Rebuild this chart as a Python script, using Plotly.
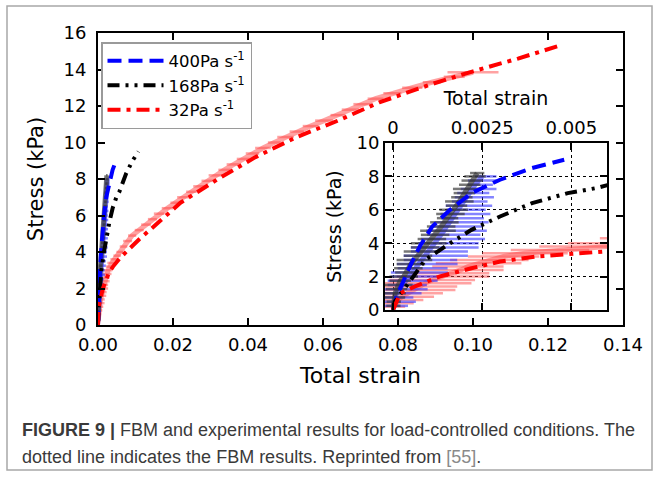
import plotly.graph_objects as go

# ---------------- data ----------------
SERIES_NAMES = ["400Pa s<sup>-1</sup>", "168Pa s<sup>-1</sup>", "32Pa s<sup>-1</sup>"]

# FBM model curves (strain, stress kPa)
BLUE_FBM_STRAIN = [0, 0.0001, 0.00047, 0.00075, 0.0011, 0.0016, 0.0022, 0.003, 0.0039, 0.0048]
BLUE_FBM_STRESS = [0, 0.8, 2.6, 3.8, 5.0, 6.0, 7.0, 7.8, 8.5, 9.0]

BLACK_FBM_STRAIN = [0, 0.00005, 0.0005, 0.0009, 0.0016, 0.0022, 0.003, 0.0039, 0.0049, 0.0057,
                    0.0075, 0.0092, 0.0108]
BLACK_FBM_STRESS = [0, 0.5, 1.8, 3.0, 4.0, 4.8, 5.6, 6.4, 7.0, 7.3, 8.3, 9.0, 9.5]

RED_FBM_STRAIN = [0, 0.0002, 0.0006, 0.0013, 0.0022, 0.003, 0.004, 0.005, 0.006, 0.008, 0.011,
                  0.016, 0.022, 0.032, 0.042, 0.053, 0.064, 0.075, 0.089, 0.100, 0.112, 0.123]
RED_FBM_STRESS = [0, 1.0, 1.4, 2.0, 2.5, 2.9, 3.2, 3.45, 3.7, 4.1, 4.7,
                  5.6, 6.7, 8.0, 9.2, 10.3, 11.2, 12.2, 13.2, 13.9, 14.6, 15.3]

# Experimental data (strain, stress, horizontal error minus / plus)
RED_EXP_STRESS = [0.2, 0.4, 0.6, 0.8, 1.0, 1.2, 1.4, 1.6, 1.8, 2.0, 2.2, 2.4, 2.6, 2.8, 3.0, 3.2,
                  3.4, 3.6, 3.8, 4.0, 4.3, 4.6, 4.9, 5.2, 5.5, 5.8, 6.1, 6.4, 6.7, 7.0, 7.3, 7.6,
                  7.9, 8.2, 8.5, 8.8, 9.1, 9.4, 9.7, 10.0, 10.3, 10.6, 10.9, 11.2, 11.5, 11.8,
                  12.1, 12.4, 12.7, 13.0, 13.3, 13.6, 13.85]
RED_EXP_STRAIN = [0.00004, 0.00008, 0.00015, 0.00025, 0.0004, 0.00055, 0.0007, 0.0009, 0.0011,
                  0.0014, 0.0016, 0.0019, 0.0021, 0.0024, 0.0027, 0.0031, 0.0037, 0.0044, 0.0051,
                  0.0058, 0.0068, 0.0079, 0.0091, 0.0110, 0.0128, 0.0145, 0.0163, 0.0185, 0.0206,
                  0.0227, 0.0249, 0.0271, 0.0291, 0.0313, 0.0337, 0.0362, 0.0387, 0.0412, 0.0440,
                  0.0470, 0.0500, 0.0530, 0.0567, 0.0603, 0.0640, 0.0673, 0.0706, 0.0740, 0.0785,
                  0.0838, 0.0890, 0.0950, 0.1000]
RED_EXP_ERR = [0.0003, 0.0005, 0.0007, 0.0009, 0.0010, 0.0012, 0.0011, 0.0013, 0.0012, 0.0013,
               0.0011, 0.0012, 0.0010, 0.0012, 0.0011, 0.0010, 0.0012, 0.0011, 0.0010, 0.0009,
               0.0010, 0.0012, 0.0011, 0.0012, 0.0013, 0.0012, 0.0014, 0.0015, 0.0013, 0.0016,
               0.0014, 0.0017, 0.0015, 0.0018, 0.0016, 0.0019, 0.0017, 0.0018, 0.0021, 0.0017,
               0.0022, 0.0019, 0.0021, 0.0024, 0.0020, 0.0023, 0.0025, 0.0021, 0.0024, 0.0027,
               0.0024, 0.0028, 0.0068]

BLUE_EXP_STRESS = [0.25, 0.5, 0.75, 1.0, 1.25, 1.5, 1.75, 2.0, 2.25, 2.5, 2.75, 3.0, 3.25, 3.5,
                   3.75, 4.0, 4.25, 4.5, 4.75, 5.0, 5.25, 5.5, 5.75, 6.0, 6.25, 6.5, 6.75, 7.0,
                   7.25, 7.5, 7.75, 8.0]
BLUE_EXP_STRAIN = [0.00002, 0.00004, 0.00007, 0.0001, 0.00017, 0.00025, 0.00035, 0.00045, 0.00054,
                   0.00063, 0.00071, 0.0008, 0.0009, 0.001, 0.0011, 0.0012, 0.00128, 0.00135,
                   0.00143, 0.0015, 0.00158, 0.00165, 0.00173, 0.0018, 0.00188, 0.00195, 0.00203,
                   0.0021, 0.0022, 0.0023, 0.0024, 0.0025]
BLUE_EXP_ERR_MINUS = [0.0003, 0.0003, 0.0004, 0.0004, 0.0005, 0.0004, 0.0005, 0.0005, 0.0006,
                      0.0005, 0.0006, 0.0005, 0.0006, 0.0005, 0.0006, 0.0005, 0.0005, 0.0004,
                      0.0005, 0.0004, 0.0004, 0.0003, 0.0004, 0.0003, 0.0004, 0.0003, 0.0003,
                      0.0003, 0.0003, 0.0002, 0.0003, 0.0002]
BLUE_EXP_ERR_PLUS = [0.0004, 0.0006, 0.0005, 0.0007, 0.0008, 0.0007, 0.0009, 0.0008, 0.0010,
                     0.0009, 0.0011, 0.0010, 0.0012, 0.0011, 0.0013, 0.0012, 0.0013, 0.0011,
                     0.0012, 0.0010, 0.0011, 0.0009, 0.0010, 0.0008, 0.0009, 0.0007, 0.0008,
                     0.0006, 0.0007, 0.0005, 0.0006, 0.0004]

GRAY_EXP_STRESS = [0.25, 0.5, 0.75, 1.0, 1.25, 1.5, 1.75, 2.0, 2.25, 2.5, 2.75, 3.0, 3.25, 3.5,
                   3.75, 4.0, 4.25, 4.5, 4.75, 5.0, 5.25, 5.5, 5.75, 6.0, 6.25, 6.5, 6.75, 7.0,
                   7.25, 7.5, 7.75, 8.0, 8.2]
GRAY_EXP_STRAIN = [0.00001, 0.00002, 0.00004, 0.00006, 0.0001, 0.00015, 0.0002, 0.0003, 0.00036,
                   0.00043, 0.0005, 0.0006, 0.0007, 0.0008, 0.0009, 0.001, 0.00109, 0.00118,
                   0.00126, 0.00135, 0.00144, 0.00153, 0.00161, 0.0017, 0.00178, 0.00186, 0.00193,
                   0.002, 0.00208, 0.00215, 0.00222, 0.0023, 0.00236]
GRAY_EXP_ERR = [0.0002, 0.0002, 0.0003, 0.0003, 0.0003, 0.0004, 0.0003, 0.0004, 0.0003, 0.0004,
                0.0004, 0.0005, 0.0004, 0.0005, 0.0004, 0.0005, 0.0004, 0.0004, 0.0005, 0.0004,
                0.0004, 0.0003, 0.0004, 0.0004, 0.0003, 0.0004, 0.0003, 0.0003, 0.0004, 0.0003,
                0.0003, 0.0003, 0.0002]

MAIN_X_TICKS = [0, 0.02, 0.04, 0.06, 0.08, 0.10, 0.12, 0.14]
MAIN_Y_TICKS = [0, 2, 4, 6, 8, 10, 12, 14, 16]
INSET_X_TICKS = [0, 0.0025, 0.005]
INSET_X_TICKTEXT = ["0", "0.0025", "0.005"]
INSET_Y_TICKS = [0, 2, 4, 6, 8, 10]

CAPTION_LINES = [
    "<b>FIGURE 9 |</b> FBM and experimental results for load-controlled conditions. The",
    "dotted line indicates the FBM results. Reprinted from "
    "<span style='color:#8a8a8a'>[55]</span>.",
]

# ---------------- figure ----------------
W, H = 655, 478
FONT = "DejaVu Sans"

fig = go.Figure()

exp_specs = [
    (RED_EXP_STRAIN, RED_EXP_STRESS, RED_EXP_ERR, RED_EXP_ERR, "rgba(255,70,70,0.5)"),
    (BLUE_EXP_STRAIN, BLUE_EXP_STRESS, BLUE_EXP_ERR_PLUS, BLUE_EXP_ERR_MINUS,
     "rgba(50,50,255,0.6)"),
    (GRAY_EXP_STRAIN, GRAY_EXP_STRESS, GRAY_EXP_ERR, GRAY_EXP_ERR, "rgba(55,55,55,0.68)"),
]
fbm_specs = [
    (BLUE_FBM_STRAIN, BLUE_FBM_STRESS, "#0000ff", "14px,7px", SERIES_NAMES[0]),
    (BLACK_FBM_STRAIN, BLACK_FBM_STRESS, "#000000", "12px,6px,3px,6px,3px,6px", SERIES_NAMES[1]),
    (RED_FBM_STRAIN, RED_FBM_STRESS, "#ff0000", "13px,6px,4px,6px", SERIES_NAMES[2]),
]

for xa, ya in [("x", "y"), ("x2", "y2")]:
    for sx, sy, ep, em, col in exp_specs:
        fig.add_trace(go.Scatter(
            x=sx, y=sy, mode="lines", xaxis=xa, yaxis=ya, showlegend=False,
            line=dict(color=col, width=5),
            error_x=dict(type="data", symmetric=False, array=ep, arrayminus=em,
                         color=col, thickness=2.5, width=0),
            hoverinfo="skip"))
    for sx, sy, col, dash, name in fbm_specs:
        fig.add_trace(go.Scatter(
            x=sx, y=sy, mode="lines", xaxis=xa, yaxis=ya, name=name,
            showlegend=(xa == "x"), line=dict(color=col, width=4, dash=dash)))

ax_common = dict(showline=True, linecolor="black", linewidth=2, mirror="ticks",
                 ticks="inside", tickcolor="black", tickwidth=1.5, ticklen=7,
                 zeroline=False, automargin=False,
                 tickfont=dict(family=FONT, size=18, color="black"))

fig.update_layout(
    width=W, height=H, margin=dict(l=0, r=0, t=0, b=0, autoexpand=False),
    paper_bgcolor="white", plot_bgcolor="white",
    font=dict(family=FONT, color="black"),
    xaxis=dict(domain=[98 / W, 623 / W], range=[0, 0.14], tickvals=MAIN_X_TICKS,
               tickformat=".2f", showgrid=False, anchor="y", ticklabelstandoff=2,
               title=dict(text="Total strain", font=dict(size=22), standoff=14),
               **ax_common),
    yaxis=dict(domain=[1 - 325 / H, 1 - 33 / H], range=[0, 16], tickvals=MAIN_Y_TICKS,
               showgrid=False, anchor="x", ticklabelstandoff=6,
               title=dict(text="Stress (kPa)", font=dict(size=21), standoff=14),
               **ax_common),
    xaxis2=dict(domain=[385 / W, 607 / W], range=[-0.000225, 0.006], tickvals=INSET_X_TICKS,
                ticktext=INSET_X_TICKTEXT, side="top", anchor="y2",
                showgrid=True, gridcolor="black", gridwidth=1, griddash="dot",
                title=dict(text="Total strain", font=dict(size=19), standoff=6),
                **ax_common),
    yaxis2=dict(domain=[1 - 310 / H, 1 - 143 / H], range=[0, 10], tickvals=INSET_Y_TICKS,
                anchor="x2", showgrid=True, gridcolor="black", gridwidth=1, griddash="dot",
                title=dict(text="Stress (kPa)", font=dict(size=19), standoff=10),
                **ax_common),
    legend=dict(x=101 / W, y=1 - 42 / H, xanchor="left", yanchor="top",
                bgcolor="white", bordercolor="#9a9a9a", borderwidth=1.5, itemwidth=56,
                font=dict(family=FONT, size=16.5, color="black"), tracegroupgap=0),
    showlegend=True,
)

# outer frame
fig.add_shape(type="rect", xref="paper", yref="paper",
              x0=7 / W, x1=652 / W, y0=1 - 470 / H, y1=1 - 6 / H,
              line=dict(color="#a8a8a8", width=1.5), fillcolor="rgba(0,0,0,0)", layer="below")

for i, line in enumerate(CAPTION_LINES):
    fig.add_annotation(text=line, xref="paper", yref="paper", x=20 / W,
                       y=1 - (430 + 27 * i) / H, xanchor="left", yanchor="middle",
                       align="left", showarrow=False,
                       font=dict(family="Liberation Sans, Arial", size=18, color="#3a3a3a"))

fig.write_html("out.html", config={"displayModeBar": False},
               post_script="document.body.style.margin='0px';")
